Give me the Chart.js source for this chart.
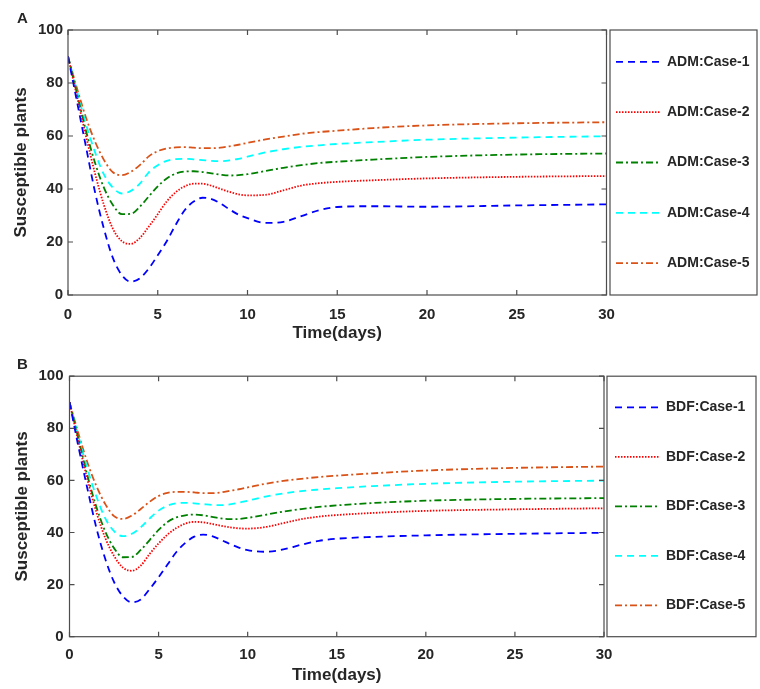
<!DOCTYPE html>
<html>
<head>
<meta charset="utf-8">
<script src="https://cdn.jsdelivr.net/npm/chart.js@4.4.1/dist/chart.umd.min.js"></script>
<style>
  body { margin: 0; background: #fff; }
  .panel { position: absolute; left: 0; }
</style>
</head>
<body>
<div class="panel" style="top:0"><canvas id="chartA" width="760" height="345"></canvas></div>
<div class="panel" style="top:345px"><canvas id="chartB" width="760" height="344"></canvas></div>
<script>
// time grid (days) shared by all curves
const days = [0, 0.5, 1, 1.5, 2, 2.5, 3, 3.5, 4, 4.5, 5, 5.5, 6, 6.5, 7, 7.5, 8, 8.5, 9, 9.5, 10, 11, 12, 13, 14, 15, 17, 20, 25, 30];
const xTicks = [0, 5, 10, 15, 20, 25, 30];
const yTicks = [0, 20, 40, 60, 80, 100];

// Panel A - ADM
const admCase1 = [90, 73, 56, 39, 25, 14, 7.5, 5.0, 6.3, 10, 15, 20.3, 26.5, 32, 35.3, 36.7, 36.2, 34.5, 32.3, 30.3, 29, 27.2, 27.6, 29.8, 32, 33.2, 33.5, 33.3, 33.8, 34.2];
const admCase2 = [90, 75, 60, 46, 34, 25, 20.3, 19.3, 21.5, 25.8, 30.5, 35.3, 38.8, 41, 42, 42, 41.2, 40, 38.9, 38, 37.6, 37.8, 39.5, 41.3, 42.2, 42.7, 43.3, 44.0, 44.6, 44.9];
const admCase3 = [90, 76, 62, 50, 40.5, 34, 30.5, 30.6, 33.3, 37.2, 41, 44, 45.8, 46.6, 46.7, 46.4, 45.9, 45.4, 45.1, 45.2, 45.6, 46.8, 48.0, 49.0, 49.8, 50.3, 51.1, 52.1, 53.0, 53.4];
const admCase4 = [90, 77, 64.5, 54, 45.5, 40.5, 38.3, 39.3, 42, 46.3, 49, 50.6, 51.3, 51.4, 51.2, 50.9, 50.6, 50.5, 50.8, 51.4, 52.2, 53.8, 55.0, 55.9, 56.5, 57.0, 57.7, 58.6, 59.4, 59.9];
const admCase5 = [90, 78, 67, 58, 51, 46.3, 45.2, 46.5, 49, 52.3, 54.3, 55.3, 55.7, 55.8, 55.6, 55.4, 55.4, 55.6, 56.1, 56.7, 57.4, 58.7, 59.8, 60.8, 61.5, 62.0, 63.0, 64.0, 64.8, 65.2];

// Panel B - BDF
const bdfCase1 = [90, 73, 57, 42, 30, 21, 15.5, 13.2, 14.3, 18.3, 22.8, 27.7, 32.5, 36, 38.4, 39.2, 38.6, 37.2, 35.6, 34.2, 33.2, 32.6, 33.5, 35.3, 36.8, 37.6, 38.3, 38.9, 39.5, 39.9];
const bdfCase2 = [90, 75, 60.5, 48, 38, 31, 26.5, 25.3, 27.3, 31.8, 35.8, 39.2, 41.7, 43.4, 44.1, 43.9, 43.3, 42.6, 42, 41.6, 41.5, 42.1, 43.6, 45.1, 46.1, 46.7, 47.5, 48.3, 48.9, 49.3];
const bdfCase3 = [90, 76, 62, 50, 40.5, 34, 30.5, 30.6, 33.3, 37.1, 41, 44, 45.8, 46.6, 46.9, 46.6, 46, 45.4, 45.1, 45.2, 45.6, 46.8, 48, 49, 49.8, 50.4, 51.3, 52.2, 52.9, 53.2];
const bdfCase4 = [90, 77, 64.5, 54, 45.5, 40.5, 38.6, 39.5, 42, 45.4, 48.4, 50.3, 51.2, 51.4, 51.2, 50.9, 50.6, 50.5, 50.8, 51.4, 52.2, 53.8, 55.0, 55.9, 56.5, 57.0, 57.8, 58.7, 59.5, 59.9];
const bdfCase5 = [90, 78, 67, 58, 51, 46.3, 45.2, 46.5, 49, 51.8, 54, 55.2, 55.6, 55.6, 55.4, 55.1, 55.1, 55.4, 56, 56.6, 57.3, 58.7, 59.8, 60.6, 61.3, 61.8, 62.7, 63.8, 64.8, 65.3];

const styles = [
  { color: '#0000ff', dash: [7, 5] },
  { color: '#ff0000', dash: [1.5, 1.5] },
  { color: '#008000', dash: [7, 3, 2, 3] },
  { color: '#00ffff', dash: [7, 5] },
  { color: '#d95319', dash: [7, 3, 2, 3] }
];

const textColor = '#262626';
const axisColor = '#4d4d4d';
const fontFamily = '"Liberation Sans", Arial, sans-serif';

function makeDatasets(prefix, series) {
  return series.map((vals, i) => ({
    label: prefix + ':Case-' + (i + 1),
    data: days.map((d, j) => ({ x: d, y: vals[j] })),
    borderColor: styles[i].color,
    borderDash: styles[i].dash,
    borderWidth: 1.8,
    pointRadius: 0,
    fill: false,
    cubicInterpolationMode: 'monotone'
  }));
}

// box around the plot with inward ticks on all four sides
const frameTicks = {
  id: 'frameTicks',
  afterDatasetsDraw(chart) {
    const { ctx, chartArea: a, scales: { x, y } } = chart;
    ctx.save();
    ctx.strokeStyle = axisColor;
    ctx.lineWidth = 1.2;
    ctx.setLineDash([]);
    ctx.strokeRect(a.left, a.top, a.right - a.left, a.bottom - a.top);
    ctx.beginPath();
    x.ticks.forEach(t => {
      const px = x.getPixelForValue(t.value);
      ctx.moveTo(px, a.bottom); ctx.lineTo(px, a.bottom - 5);
      ctx.moveTo(px, a.top); ctx.lineTo(px, a.top + 5);
    });
    y.ticks.forEach(t => {
      const py = y.getPixelForValue(t.value);
      ctx.moveTo(a.left, py); ctx.lineTo(a.left + 5, py);
      ctx.moveTo(a.right, py); ctx.lineTo(a.right - 5, py);
    });
    ctx.stroke();
    ctx.restore();
  }
};

// boxed legend to the right of the plot, plus panel letter
const caseLegend = {
  id: 'caseLegend',
  afterDraw(chart, args, opts) {
    const { ctx, chartArea: a } = chart;
    const left = a.right + opts.gap;
    const right = opts.right;
    const h = a.bottom - a.top;
    ctx.save();
    ctx.strokeStyle = axisColor;
    ctx.lineWidth = 1.2;
    ctx.strokeRect(left, a.top, right - left, h);
    ctx.font = 'bold 14px ' + fontFamily;
    ctx.textBaseline = 'middle';
    ctx.textAlign = 'left';
    chart.data.datasets.forEach((ds, i) => {
      const yy = a.top + h * (0.12 + i * 0.19);
      ctx.beginPath();
      ctx.strokeStyle = ds.borderColor;
      ctx.lineWidth = 1.8;
      ctx.setLineDash(ds.borderDash);
      ctx.moveTo(right - 141, yy);
      ctx.lineTo(right - 97, yy);
      ctx.stroke();
      ctx.setLineDash([]);
      ctx.fillStyle = textColor;
      ctx.fillText(ds.label, right - 90, yy);
    });
    ctx.font = 'bold 15px ' + fontFamily;
    ctx.fillStyle = textColor;
    ctx.fillText(opts.letter, 17, opts.letterY);
    ctx.restore();
  }
};

function makeChart(id, datasets, cfg) {
  return new Chart(document.getElementById(id), {
    type: 'line',
    data: { datasets: datasets },
    options: {
      responsive: false,
      animation: false,
      layout: { padding: cfg.padding },
      plugins: {
        legend: { display: false },
        tooltip: { enabled: false },
        caseLegend: { gap: cfg.gap, right: cfg.legendRight, letter: cfg.letter, letterY: cfg.letterY }
      },
      scales: {
        x: {
          type: 'linear',
          min: 0, max: 30,
          afterBuildTicks: s => { s.ticks = xTicks.map(v => ({ value: v })); },
          afterFit: s => { s.height = cfg.xHeight; },
          grid: { display: false, drawTicks: false, tickLength: 0 },
          border: { display: false },
          ticks: { color: textColor, padding: cfg.xPad, font: { family: fontFamily, size: 15, weight: 'bold' } },
          title: { display: true, text: 'Time(days)', color: textColor, padding: 0, font: { family: fontFamily, size: 17, weight: 'bold' } }
        },
        y: {
          min: 0, max: 100,
          afterBuildTicks: s => { s.ticks = yTicks.map(v => ({ value: v })); },
          afterFit: s => { s.width = cfg.yWidth; },
          grid: { display: false, drawTicks: false, tickLength: 0 },
          border: { display: false },
          ticks: { color: textColor, padding: cfg.yPad, font: { family: fontFamily, size: 15, weight: 'bold' } },
          title: { display: true, text: 'Susceptible plants', color: textColor, padding: { top: cfg.yTitlePad, bottom: 0 }, font: { family: fontFamily, size: 17, weight: 'bold' } }
        }
      }
    },
    plugins: [frameTicks, caseLegend]
  });
}

makeChart('chartA', makeDatasets('ADM', [admCase1, admCase2, admCase3, admCase4, admCase5]), {
  padding: { left: 6, right: 153.5, top: 30, bottom: 1.8 },
  xHeight: 48.2, yWidth: 62, xPad: 10.5, yPad: 5, yTitlePad: 5,
  gap: 3.5, legendRight: 757, letter: 'A', letterY: 18.5
});

makeChart('chartB', makeDatasets('BDF', [bdfCase1, bdfCase2, bdfCase3, bdfCase4, bdfCase5]), {
  padding: { left: 6, right: 156, top: 31.2, bottom: 3.8 },
  xHeight: 48.5, yWidth: 63.5, xPad: 9, yPad: 6, yTitlePad: 6,
  gap: 3, legendRight: 756, letter: 'B', letterY: 20
});
</script>
</body>
</html>
